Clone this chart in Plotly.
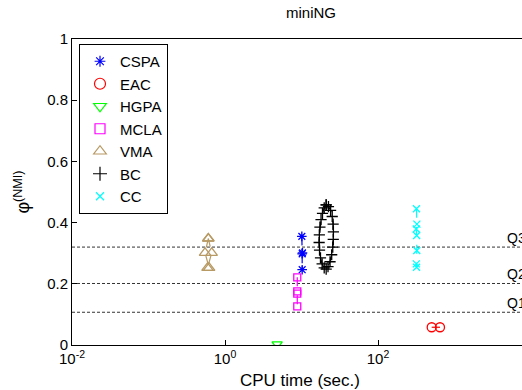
import plotly.graph_objects as go

# ---------------- data ----------------
q_levels = [0.32, 0.201, 0.107]
q_labels = ["Q3", "Q2", "Q1"]

x_tickvals = [0.01, 1, 100]
x_ticktext = ["10<sup>-2</sup>", "10<sup>0</sup>", "10<sup>2</sup>"]
y_tickvals = [0, 0.2, 0.4, 0.6, 0.8, 1]
y_ticktext = ["0", "0.2", "0.4", "0.6", "0.8", "1"]

cspa_x = [10.1, 10.3, 10.2, 10.2]
cspa_y = [0.355, 0.301, 0.298, 0.246]

eac_x = [503, 646]
eac_y = [0.058, 0.058]

hgpa_x = [4.8]
hgpa_y = [0.003]

mcla_x = [8.8, 8.8, 8.8, 8.8]
mcla_y = [0.221, 0.175, 0.168, 0.126]

vma_x = [0.605, 0.548, 0.62, 0.59, 0.67, 0.605]
vma_y = [0.348, 0.301, 0.252, 0.252, 0.301, 0.348]

bc_x = [21.0, 22.5, 24.0, 25.2, 25.9, 26.1, 26.0, 25.6, 24.8, 23.6, 22.2, 21.0,
        19.8, 18.6, 17.7, 17.2, 17.0, 17.1, 17.4, 18.0, 18.8, 19.8, 21.0]
bc_y = [0.458, 0.452, 0.440, 0.420, 0.395, 0.370, 0.345, 0.320, 0.295, 0.272, 0.256, 0.248,
        0.252, 0.265, 0.285, 0.310, 0.335, 0.360, 0.385, 0.410, 0.430, 0.448, 0.458]

cc_x = [318, 322, 316, 320, 321, 317, 319]
cc_y = [0.445, 0.395, 0.379, 0.358, 0.309, 0.265, 0.254]

series = [
    ("CSPA", cspa_x, cspa_y, "#0000FF", "asterisk-open", 8, "dashdot", 9),
    ("EAC", eac_x, eac_y, "#FF0000", "circle-open", 9, "dash", 11),
    ("HGPA", hgpa_x, hgpa_y, "#00FF00", "triangle-down-open", 9, "dash", 11),
    ("MCLA", mcla_x, mcla_y, "#FF00FF", "square-open", 7, "dash", 10),
    ("VMA", vma_x, vma_y, "#B89A64", "triangle-up-open", 10, "dash", 11),
    ("BC", bc_x, bc_y, "#000000", "cross-thin-open", 8, "dash", 10),
    ("CC", cc_x, cc_y, "#00FFFF", "x-thin-open", 7, "dash", 8),
]

FONT = "Liberation Sans, Arial, sans-serif"

fig = go.Figure()

# horizontal quality lines
for q in q_levels:
    fig.add_shape(type="line", xref="paper", yref="y", x0=0, x1=1, y0=q, y1=q,
                  line=dict(color="#333333", width=1, dash="3px,2px"), layer="below")

for name, xs, ys, col, sym, sz, dash, lsz in series:
    fig.add_trace(go.Scatter(
        x=xs, y=ys, mode="lines+markers", showlegend=False,
        line=dict(color=col, width=1.2, dash=dash),
        marker=dict(symbol=sym, size=sz, color=col, line=dict(color=col, width=1.3)),
    ))
    fig.add_trace(go.Scatter(
        x=[None], y=[None], mode="markers", name=name,
        marker=dict(symbol=sym, size=lsz, color=col, line=dict(color=col, width=1.2)),
    ))

for q, lab in zip(q_levels, q_labels):
    fig.add_annotation(x=3.66, y=q + 0.03, xref="x", yref="y", text=lab, showarrow=False,
                       xanchor="left", yanchor="middle", font=dict(size=14, color="black"))

# title and x label as annotations at their pixel locations
fig.add_annotation(x=(311 - 72) / 450, y=1 + (39 - 12) / 306, xref="paper", yref="paper",
                   text="miniNG", showarrow=False, xanchor="center", yanchor="middle",
                   font=dict(size=15, color="black"))
fig.add_annotation(x=(300 - 72) / 450, y=-(380 - 345) / 306, xref="paper", yref="paper",
                   text="CPU time (sec.)", showarrow=False, xanchor="center", yanchor="middle",
                   font=dict(size=17, color="black"))

fig.update_layout(
    width=522, height=390,
    margin=dict(l=72, r=0, t=39, b=45),
    paper_bgcolor="white", plot_bgcolor="white",
    font=dict(family=FONT, size=15, color="black"),
    legend=dict(x=(79 - 72) / 450, y=1 - (44 - 39) / 306, xanchor="left", yanchor="top",
                bgcolor="white", bordercolor="black", borderwidth=1,
                font=dict(size=15), itemwidth=30, tracegroupgap=0),
)
fig.update_xaxes(type="log", range=[-2, 3.882], tickvals=x_tickvals, ticktext=x_ticktext,
                 showgrid=False, zeroline=False, showline=True, linecolor="black", linewidth=1,
                 mirror=True, ticks="inside", ticklen=5, tickcolor="black")
fig.update_yaxes(range=[0, 1], tickvals=y_tickvals, ticktext=y_ticktext,
                 showgrid=False, zeroline=False, showline=True, linecolor="black", linewidth=1,
                 mirror=False, ticks="inside", ticklen=5, tickcolor="black",
                 title=dict(text="φ<sup>(NMI)</sup>", font=dict(size=18), standoff=12))

fig.write_html("out.html", config={"displayModeBar": False},
               post_script="document.body.style.margin='0';")
